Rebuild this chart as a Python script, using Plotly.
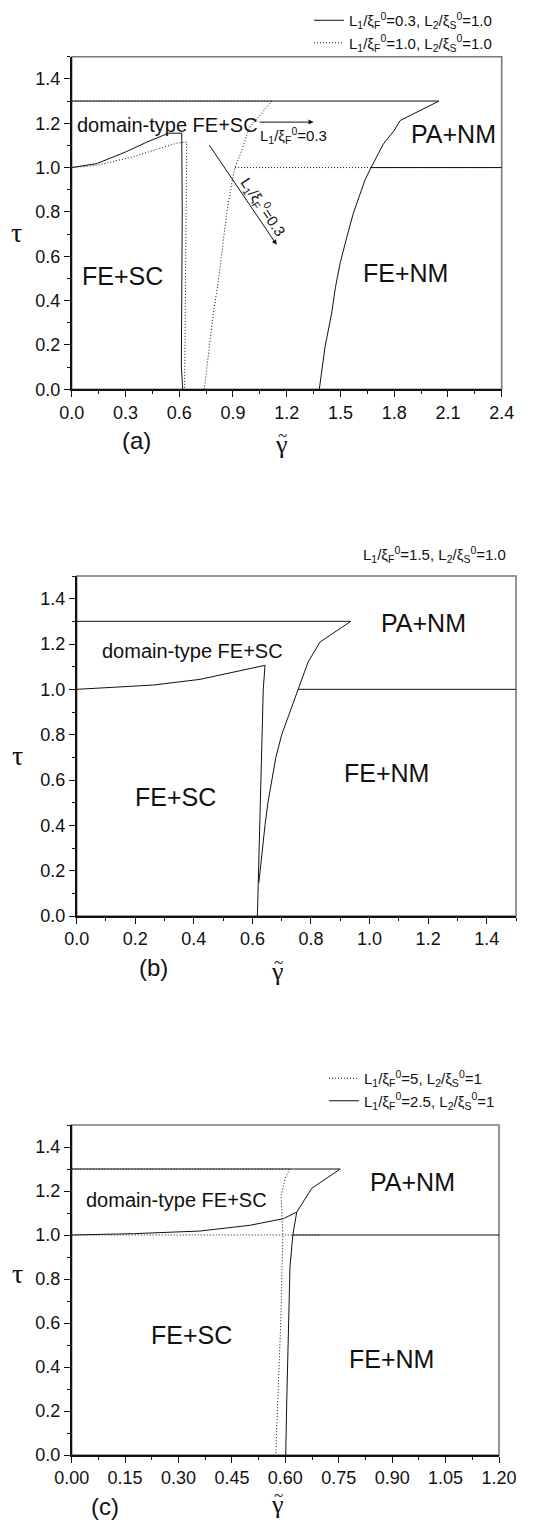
import plotly.graph_objects as go

SANS = "Liberation Sans, Arial, sans-serif"
SERIF = "Liberation Serif, DejaVu Serif, serif"
INK = "#111111"
DOT = "1px,2px"

W, H = 554, 1520

# ---------------- panel (a): L1/xiF0 = 0.3 (solid), 1.0 (dotted) ----------------
a_top_solid_g = [0.0, 2.05]
a_top_solid_t = [1.3, 1.3]
a_sc_solid_g = [0.0, 0.14, 0.30, 0.42, 0.54, 0.614, 0.617, 0.616, 0.612, 0.62]
a_sc_solid_t = [1.0, 1.018, 1.07, 1.115, 1.155, 1.155, 0.8, 0.3, 0.1, 0.0]
a_nm_solid_g = [2.05, 1.833, 1.80, 1.74, 1.671, 1.637, 1.605, 1.572, 1.535, 1.498, 1.472, 1.451, 1.414, 1.382]
a_nm_solid_t = [1.3, 1.212, 1.167, 1.107, 1.0, 0.944, 0.87, 0.794, 0.685, 0.568, 0.46, 0.343, 0.192, 0.0]
a_one_solid_g = [1.671, 2.4]
a_one_solid_t = [1.0, 1.0]

a_top_dot_g = [0.0, 1.116]
a_top_dot_t = [1.3, 1.3]
a_sc_dot_g = [0.0, 0.14, 0.34, 0.586, 0.642, 0.636, 0.63]
a_sc_dot_t = [1.0, 1.01, 1.048, 1.11, 1.115, 0.5, 0.0]
a_nm_dot_g = [1.116, 1.06, 1.0, 0.986, 0.949, 0.912, 0.897, 0.865, 0.843, 0.819, 0.791, 0.767, 0.74]
a_nm_dot_t = [1.3, 1.247, 1.187, 1.167, 1.078, 1.0, 0.944, 0.794, 0.644, 0.493, 0.343, 0.192, 0.0]
a_one_dot_g = [0.912, 2.4]
a_one_dot_t = [1.0, 1.0]

# ---------------- panel (b): L1/xiF0 = 1.5 ----------------
b_top_g = [0.0, 0.936]
b_top_t = [1.3, 1.3]
b_sc_g = [0.0, 0.262, 0.421, 0.535, 0.643, 0.637, 0.630, 0.621, 0.617]
b_sc_t = [1.0, 1.019, 1.044, 1.076, 1.106, 1.0, 0.6, 0.147, 0.0]
b_nm_g = [0.936, 0.831, 0.79, 0.757, 0.73, 0.700, 0.68, 0.666, 0.653, 0.643, 0.628, 0.622]
b_nm_t = [1.3, 1.209, 1.12, 1.0, 0.91, 0.8, 0.7, 0.6, 0.5, 0.4, 0.2, 0.147]
b_one_g = [0.757, 1.5]
b_one_t = [1.0, 1.0]

# ---------------- panel (c): L1/xiF0 = 5 (dotted), 2.5 (solid) ----------------
c_top_solid_g = [0.0, 0.754]
c_top_solid_t = [1.3, 1.3]
c_sc_solid_g = [0.0, 0.173, 0.36, 0.50, 0.594, 0.632]
c_sc_solid_t = [1.0, 1.006, 1.018, 1.044, 1.074, 1.104]
c_nm_solid_g = [0.754, 0.674, 0.632, 0.621, 0.613, 0.608, 0.604, 0.601]
c_nm_solid_t = [1.3, 1.212, 1.104, 1.0, 0.855, 0.552, 0.25, 0.0]
c_one_solid_g = [0.621, 1.2]
c_one_solid_t = [1.0, 1.0]

c_top_dot_g = [0.0, 0.613]
c_top_dot_t = [1.3, 1.3]
c_one_dot_g = [0.0, 0.70]
c_one_dot_t = [1.0, 1.0]
c_nm_dot_g = [0.613, 0.60, 0.588, 0.590, 0.593, 0.587, 0.58, 0.573]
c_nm_dot_t = [1.3, 1.26, 1.18, 1.1, 1.0, 0.6, 0.3, 0.0]

LEG_A1 = "L<sub>1</sub>/ξ<sub>F</sub><sup>0</sup>=0.3, L<sub>2</sub>/ξ<sub>S</sub><sup>0</sup>=1.0"
LEG_A2 = "L<sub>1</sub>/ξ<sub>F</sub><sup>0</sup>=1.0, L<sub>2</sub>/ξ<sub>S</sub><sup>0</sup>=1.0"
NOTE_B = "L<sub>1</sub>/ξ<sub>F</sub><sup>0</sup>=1.5, L<sub>2</sub>/ξ<sub>S</sub><sup>0</sup>=1.0"
LEG_C1 = "L<sub>1</sub>/ξ<sub>F</sub><sup>0</sup>=5, L<sub>2</sub>/ξ<sub>S</sub><sup>0</sup>=1"
LEG_C2 = "L<sub>1</sub>/ξ<sub>F</sub><sup>0</sup>=2.5, L<sub>2</sub>/ξ<sub>S</sub><sup>0</sup>=1"
ARROW_LABEL = "L<sub>1</sub>/ξ<sub>F</sub><sup>0</sup>=0.3"


def joined(pairs):
    xs, ys = [], []
    for gx, ty in pairs:
        if xs:
            xs.append(None)
            ys.append(None)
        xs.extend(gx)
        ys.extend(ty)
    return xs, ys


fig = go.Figure()


def add(pairs, axis, dotted, name=None, legend=None):
    xs, ys = joined(pairs)
    fig.add_trace(go.Scatter(
        x=xs, y=ys, mode="lines", xaxis="x" + axis, yaxis="y" + axis,
        line=dict(color=INK, width=1, dash=DOT if dotted else "solid"),
        name=name or "", showlegend=name is not None,
        legend=legend or "legend", hoverinfo="skip"))


add([(a_top_solid_g, a_top_solid_t), (a_sc_solid_g, a_sc_solid_t),
     (a_nm_solid_g, a_nm_solid_t), (a_one_solid_g, a_one_solid_t)], "", False, LEG_A1, "legend")
add([(a_top_dot_g, a_top_dot_t), (a_sc_dot_g, a_sc_dot_t),
     (a_nm_dot_g, a_nm_dot_t), (a_one_dot_g, a_one_dot_t)], "", True, LEG_A2, "legend")

add([(b_top_g, b_top_t), (b_sc_g, b_sc_t), (b_nm_g, b_nm_t), (b_one_g, b_one_t)], "2", False)

add([(c_top_dot_g, c_top_dot_t), (c_one_dot_g, c_one_dot_t), (c_nm_dot_g, c_nm_dot_t)],
    "3", True, LEG_C1, "legend2")
add([(c_top_solid_g, c_top_solid_t), (c_sc_solid_g, c_sc_solid_t),
     (c_nm_solid_g, c_nm_solid_t), (c_one_solid_g, c_one_solid_t)], "3", False, LEG_C2, "legend2")


def px_x(v):
    return v / W


def px_y(v):
    return 1 - v / H


def xaxis(dom, rng, dtick, fmt, anchor):
    return dict(domain=dom, range=rng, anchor=anchor, dtick=dtick, tick0=0, tickformat=fmt,
                ticks="outside", ticklen=6, tickwidth=1.3, tickcolor=INK, automargin=False,
                showline=True, linecolor=INK, linewidth=1.6, showgrid=False, zeroline=False,
                tickfont=dict(family=SANS, size=18, color=INK),
                minor=dict(dtick=dtick / 2, ticks="outside", ticklen=3, tickwidth=1.2, tickcolor=INK))


def yaxis(dom, anchor):
    return dict(domain=dom, range=[0, 1.5], anchor=anchor, dtick=0.2, tick0=0, tickformat=".1f",
                ticks="outside", ticklen=6, tickwidth=1.3, tickcolor=INK, automargin=False,
                showline=True, linecolor=INK, linewidth=1.6, showgrid=False, zeroline=False,
                tickfont=dict(family=SANS, size=18, color=INK),
                minor=dict(dtick=0.1, ticks="outside", ticklen=3, tickwidth=1.2, tickcolor=INK))


# panel frames in pixels: (left, right, bottom, top)
frames = {"": (71.7, 501.7, 389.3, 56.7), "2": (76.7, 516.0, 916.0, 576.0), "3": (71.7, 499.0, 1455.0, 1125.0)}
boxes = {k: ([px_x(l), px_x(r)], [px_y(b), px_y(t)]) for k, (l, r, b, t) in frames.items()}

layout = dict(
    width=W, height=H, margin=dict(l=0, r=0, t=0, b=0, autoexpand=False),
    paper_bgcolor="white", plot_bgcolor="white",
    xaxis=xaxis(boxes[""][0], [0, 2.4], 0.3, ".1f", "y"),
    yaxis=yaxis(boxes[""][1], "x"),
    xaxis2=xaxis(boxes["2"][0], [0, 1.5], 0.2, ".1f", "y2"),
    yaxis2=yaxis(boxes["2"][1], "x2"),
    xaxis3=xaxis(boxes["3"][0], [0, 1.2], 0.15, ".2f", "y3"),
    yaxis3=yaxis(boxes["3"][1], "x3"),
    legend=dict(x=px_x(497), xanchor="right", y=px_y(4), yanchor="top",
                font=dict(family=SANS, size=15, color=INK), bgcolor="rgba(0,0,0,0)",
                tracegroupgap=0, itemwidth=30),
    legend2=dict(x=px_x(500), xanchor="right", y=px_y(1062), yanchor="top",
                 font=dict(family=SANS, size=15, color=INK), bgcolor="rgba(0,0,0,0)",
                 tracegroupgap=0, itemwidth=30),
    showlegend=True,
)
fig.update_layout(**layout)

# grey frame on the top and right sides of each panel
for ax in ["", "2", "3"]:
    fig.add_shape(type="rect", xref=f"x{ax} domain", yref=f"y{ax} domain",
                  x0=0, x1=1, y0=0, y1=1, line=dict(color="#7a7a7a", width=1.6), layer="below")


def label(ax, g, t, text, size=25, xanchor="center", **kw):
    fig.add_annotation(x=g, y=t, xref="x" + ax, yref="y" + ax, text=text, showarrow=False,
                       xanchor=xanchor, yanchor="middle",
                       font=dict(family=SANS, size=size, color=INK), **kw)


# region labels
label("", 0.535, 1.192, "domain-type FE+SC", 20)
label("", 2.13, 1.15, "PA+NM", 25)
label("", 0.284, 0.511, "FE+SC", 25)
label("", 1.862, 0.523, "FE+NM", 25)

label("2", 0.396, 1.169, "domain-type FE+SC", 20)
label("2", 1.184, 1.294, "PA+NM", 25)
label("2", 0.339, 0.527, "FE+SC", 25)
label("2", 1.058, 0.631, "FE+NM", 25)

label("3", 0.293, 1.159, "domain-type FE+SC", 20)
label("3", 0.957, 1.242, "PA+NM", 25)
label("3", 0.337, 0.545, "FE+SC", 25)
label("3", 0.899, 0.435, "FE+NM", 25)

# arrows in panel (a)
fig.add_annotation(x=1.35, y=1.205, ax=1.04, ay=1.205, xref="x", yref="y", axref="x", ayref="y",
                   text="", showarrow=True, arrowhead=2, arrowsize=1, arrowwidth=1, arrowcolor=INK)
label("", 1.04, 1.145, ARROW_LABEL, 15, xanchor="left")
fig.add_annotation(x=1.144, y=0.652, ax=0.763, ay=1.107, xref="x", yref="y", axref="x", ayref="y",
                   text="", showarrow=True, arrowhead=2, arrowsize=1, arrowwidth=1, arrowcolor=INK)
label("", 1.069, 0.824, ARROW_LABEL, 15, textangle=56)

# panel (b) parameter note
fig.add_annotation(x=px_x(508), y=px_y(555), xref="paper", yref="paper", xanchor="right",
                   yanchor="middle", text=NOTE_B, showarrow=False,
                   font=dict(family=SANS, size=15, color=INK))


def paper_text(xp, yp, text, family, size):
    fig.add_annotation(x=px_x(xp), y=px_y(yp), xref="paper", yref="paper", text=text,
                       xanchor="center", yanchor="middle", showarrow=False,
                       font=dict(family=family, size=size, color=INK))


# axis symbols and panel tags, placed relative to each frame
# (tag, tag x, gamma x, gamma offset below axis, tau y, tau x)
tags = {"": ("(a)", 136, 281, 55, 232, 16.7),
        "2": ("(b)", 153, 277, 55, 755, 17.5),
        "3": ("(c)", 105, 277, 49, 1273, 17.5)}
for ax, (tag, tag_x, gam_x, gam_dy, tau_y, tau_x) in tags.items():
    bottom = frames[ax][2]
    paper_text(tag_x, bottom + 51, tag, SANS, 24)
    paper_text(gam_x, bottom + gam_dy, "γ", SERIF, 26)
    paper_text(gam_x + 1, bottom + gam_dy - 9, "~", SERIF, 17)
    paper_text(tau_x, tau_y, "τ", SERIF, 28)

fig.write_html("out.html")
